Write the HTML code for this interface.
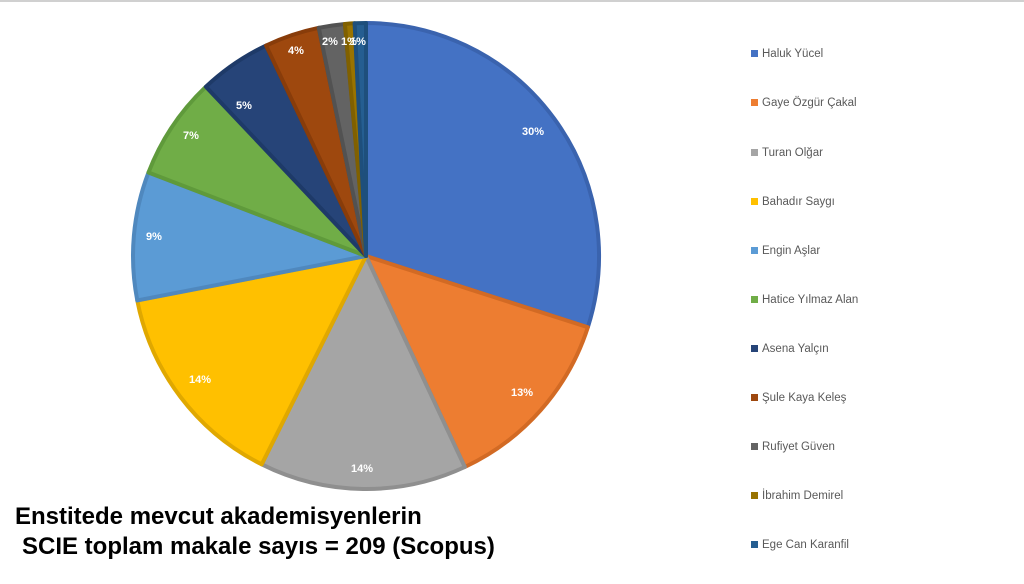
<!DOCTYPE html>
<html><head><meta charset="utf-8"><style>
html,body{margin:0;padding:0;background:#fff}
#w{position:relative;width:1024px;height:584px;overflow:hidden;font-family:"Liberation Sans",sans-serif;border-top:2px solid #d0d0d0;box-sizing:border-box}
.lg{position:absolute;left:751px;font-size:11.5px;color:#595959;white-space:nowrap}
.lg i{display:inline-block;width:7px;height:7px;margin-right:4px;vertical-align:0px}
.t{position:absolute;font-weight:bold;font-size:24px;color:#000;white-space:nowrap}
</style></head><body><div id="w">
<svg id="s" width="1024" height="584" style="position:absolute;left:0;top:-2px">
<g id="p"></g>
<g font-family="Liberation Sans,sans-serif" font-size="11" font-weight="bold" fill="#fff" text-anchor="middle">
<text x="533" y="135">30%</text>
<text x="522" y="396">13%</text>
<text x="362" y="472">14%</text>
<text x="200" y="383">14%</text>
<text x="154" y="240">9%</text>
<text x="191" y="139">7%</text>
<text x="244" y="109">5%</text>
<text x="296" y="54">4%</text>
<text x="330" y="45">2%</text>
<text x="349" y="45">1%</text>
<text x="358" y="45">1%</text>
</g>
</svg>
<div class="lg" style="top:46px"><i style="background:#4472C4"></i>Haluk Yücel</div>
<div class="lg" style="top:95px"><i style="background:#ED7D31"></i>Gaye Özgür Çakal</div>
<div class="lg" style="top:145px"><i style="background:#A5A5A5"></i>Turan Olğar</div>
<div class="lg" style="top:194px"><i style="background:#FFC000"></i>Bahadır Saygı</div>
<div class="lg" style="top:243px"><i style="background:#5B9BD5"></i>Engin Aşlar</div>
<div class="lg" style="top:292px"><i style="background:#70AD47"></i>Hatice Yılmaz Alan</div>
<div class="lg" style="top:341px"><i style="background:#264478"></i>Asena Yalçın</div>
<div class="lg" style="top:390px"><i style="background:#9E480E"></i>Şule Kaya Keleş</div>
<div class="lg" style="top:439px"><i style="background:#636363"></i>Rufiyet Güven</div>
<div class="lg" style="top:488px"><i style="background:#997300"></i>İbrahim Demirel</div>
<div class="lg" style="top:537px"><i style="background:#255E91"></i>Ege Can Karanfil</div>
<div class="t" style="left:15px;top:501px">Enstitede mevcut akademisyenlerin</div>
<div class="t" style="left:22px;top:531px">SCIE toplam makale sayıs = 209 (Scopus)</div>
</div>
<script>
var b=[0,107.8,154.9,206.6,259,291,316.6,334.6,348.3,354.8,357.2,360];
var c=["#4472C4","#ED7D31","#A5A5A5","#FFC000","#5B9BD5","#70AD47","#264478","#9E480E","#636363","#997300","#255E91"];
var d=["#3A63AE","#D26A24","#8F8F8F","#E0A800","#4F88BE","#5F9A3B","#1E3A68","#883C0A","#525252","#806000","#1E4F7C"];
var cx=366,cy=256,r=233,g=document.getElementById("p"),h="";
for(var i=0;i<c.length;i++){var a0=b[i]*Math.PI/180,a1=b[i+1]*Math.PI/180;
var x0=cx+r*Math.sin(a0),y0=cy-r*Math.cos(a0),x1=cx+r*Math.sin(a1),y1=cy-r*Math.cos(a1);
h+='<path d="M'+cx+','+cy+'L'+x0.toFixed(2)+','+y0.toFixed(2)+'A'+r+','+r+' 0 '+((a1-a0)>Math.PI?1:0)+' 1 '+x1.toFixed(2)+','+y1.toFixed(2)+'Z" fill="'+c[i]+'" stroke="'+d[i]+'" stroke-width="4" stroke-linejoin="round"/>';}
g.innerHTML=h;
</script>
</body></html>
